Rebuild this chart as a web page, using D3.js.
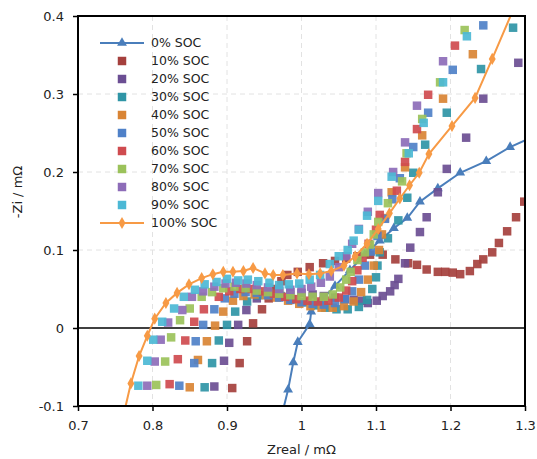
<!DOCTYPE html>
<html><head><meta charset="utf-8">
<script src="https://cdn.jsdelivr.net/npm/d3@7"></script>
<style>body{margin:0;background:#fff;} text{font-family:"DejaVu Sans",Verdana,sans-serif;fill:#222;}</style>
</head><body><svg id="c" width="537" height="459"></svg>
<script>
const xTicks=[0.7,0.8,0.9,1,1.1,1.2,1.3];
const yTicks=[-0.1,0,0.1,0.2,0.3,0.4];
const seriesNames=["0% SOC","10% SOC","20% SOC","30% SOC","40% SOC","50% SOC","60% SOC","70% SOC","80% SOC","90% SOC","100% SOC"];
const seriesColors=["#4A7EBB","#A5403D","#6B4E93","#2F95A6","#D98434","#4F81C8","#CF4B4F","#9BC25A","#8D6CB8","#4CB8D5","#F79A45"];

const soc0=[[0.974,-0.11],[0.982,-0.079],[0.989,-0.044],[0.995,-0.018],[1.011,0.005],[1.013,0.021],[1.025,0.034],[1.045,0.054],[1.065,0.074],[1.085,0.094],[1.105,0.112],[1.124,0.128],[1.142,0.141],[1.159,0.162],[1.183,0.179],[1.213,0.199],[1.248,0.214],[1.280,0.232],[1.310,0.245]];
const soc10=[[0.907,-0.077],[0.917,-0.045],[0.927,-0.017],[0.935,0.006],[0.947,0.024],[0.956,0.038],[0.966,0.050],[0.973,0.060],[0.981,0.068],[0.995,0.072],[1.011,0.078],[1.029,0.083],[1.045,0.086],[1.060,0.089],[1.075,0.092],[1.092,0.094],[1.109,0.094],[1.126,0.088],[1.143,0.083],[1.155,0.081],[1.168,0.075],[1.183,0.072],[1.193,0.072],[1.203,0.071],[1.213,0.069],[1.226,0.073],[1.236,0.082],[1.244,0.088],[1.256,0.097],[1.265,0.109],[1.276,0.124],[1.288,0.142],[1.299,0.162]];
const soc20=[[0.883,-0.075],[0.896,-0.042],[0.903,-0.019],[0.915,0.004],[0.926,0.023],[0.940,0.038],[0.955,0.045],[0.970,0.047],[0.985,0.046],[1.000,0.045],[1.015,0.043],[1.030,0.041],[1.045,0.039],[1.058,0.037],[1.070,0.036],[1.081,0.035],[1.089,0.032],[1.101,0.035],[1.109,0.041],[1.119,0.047],[1.125,0.055],[1.130,0.063],[1.139,0.083],[1.146,0.103],[1.159,0.123],[1.168,0.142],[1.183,0.174],[1.195,0.204],[1.221,0.244],[1.244,0.294],[1.291,0.340]];
const soc30=[[0.870,-0.076],[0.880,-0.045],[0.889,-0.016],[0.900,0.004],[0.911,0.021],[0.927,0.034],[0.942,0.042],[0.957,0.044],[0.972,0.041],[0.987,0.037],[1.002,0.033],[1.017,0.029],[1.032,0.026],[1.047,0.024],[1.062,0.024],[1.077,0.027],[1.088,0.036],[1.095,0.050],[1.100,0.065],[1.102,0.080],[1.105,0.097],[1.116,0.115],[1.130,0.138],[1.142,0.167],[1.150,0.199],[1.166,0.235],[1.195,0.276],[1.241,0.332],[1.284,0.385]];
const soc40=[[0.850,-0.076],[0.861,-0.041],[0.873,-0.017],[0.884,0.003],[0.895,0.021],[0.908,0.035],[0.922,0.041],[0.937,0.043],[0.952,0.042],[0.967,0.039],[0.982,0.035],[0.997,0.031],[1.012,0.028],[1.027,0.026],[1.042,0.026],[1.057,0.028],[1.070,0.034],[1.080,0.046],[1.089,0.062],[1.097,0.080],[1.104,0.100],[1.108,0.120],[1.112,0.141],[1.121,0.174],[1.139,0.206],[1.162,0.247],[1.190,0.294],[1.230,0.351]];
const soc50=[[0.836,-0.074],[0.856,-0.045],[0.858,-0.017],[0.868,0.004],[0.883,0.024],[0.897,0.038],[0.910,0.044],[0.925,0.046],[0.940,0.045],[0.955,0.042],[0.970,0.039],[0.985,0.036],[1.000,0.033],[1.015,0.031],[1.030,0.030],[1.045,0.032],[1.058,0.037],[1.068,0.047],[1.077,0.062],[1.085,0.080],[1.093,0.098],[1.102,0.118],[1.112,0.140],[1.122,0.165],[1.132,0.192],[1.150,0.232],[1.170,0.276],[1.203,0.331],[1.244,0.388]];
const soc60=[[0.823,-0.072],[0.834,-0.040],[0.844,-0.016],[0.856,0.008],[0.869,0.024],[0.889,0.040],[0.903,0.047],[0.918,0.050],[0.933,0.050],[0.948,0.047],[0.963,0.044],[0.978,0.040],[0.993,0.037],[1.008,0.035],[1.022,0.034],[1.036,0.035],[1.050,0.039],[1.060,0.048],[1.068,0.060],[1.075,0.074],[1.082,0.090],[1.090,0.108],[1.100,0.126],[1.105,0.145],[1.128,0.176],[1.139,0.213],[1.155,0.255],[1.170,0.299],[1.206,0.362]];
const soc70=[[0.805,-0.073],[0.817,-0.043],[0.825,-0.012],[0.837,0.010],[0.850,0.025],[0.866,0.040],[0.880,0.046],[0.895,0.051],[0.910,0.053],[0.925,0.051],[0.940,0.048],[0.955,0.046],[0.970,0.044],[0.985,0.042],[1.000,0.041],[1.015,0.040],[1.030,0.040],[1.042,0.043],[1.052,0.052],[1.060,0.062],[1.066,0.072],[1.075,0.087],[1.085,0.097],[1.092,0.107],[1.097,0.120],[1.103,0.136],[1.116,0.160],[1.135,0.188],[1.141,0.224],[1.162,0.268],[1.186,0.315],[1.219,0.382]];
const soc80=[[0.793,-0.074],[0.803,-0.043],[0.811,-0.015],[0.821,0.007],[0.840,0.023],[0.853,0.040],[0.868,0.047],[0.883,0.053],[0.898,0.057],[0.912,0.058],[0.926,0.057],[0.940,0.055],[0.955,0.052],[0.970,0.050],[0.985,0.049],[1.000,0.050],[1.013,0.053],[1.026,0.058],[1.038,0.066],[1.050,0.078],[1.060,0.092],[1.068,0.108],[1.077,0.127],[1.089,0.149],[1.103,0.173],[1.123,0.200],[1.139,0.238],[1.155,0.285],[1.190,0.342]];
const soc90=[[0.781,-0.074],[0.793,-0.042],[0.801,-0.015],[0.813,0.008],[0.829,0.025],[0.842,0.040],[0.857,0.049],[0.870,0.056],[0.886,0.059],[0.900,0.063],[0.915,0.061],[0.928,0.062],[0.942,0.060],[0.957,0.058],[0.970,0.055],[0.983,0.056],[0.997,0.057],[1.011,0.062],[1.025,0.068],[1.038,0.082],[1.050,0.092],[1.062,0.100],[1.070,0.112],[1.077,0.126],[1.088,0.144],[1.103,0.163],[1.121,0.194],[1.144,0.224],[1.164,0.263],[1.190,0.315],[1.222,0.374]];
const soc100=[[0.762,-0.108],[0.771,-0.071],[0.782,-0.036],[0.793,-0.010],[0.803,0.012],[0.818,0.032],[0.833,0.045],[0.849,0.056],[0.866,0.064],[0.881,0.069],[0.895,0.072],[0.908,0.072],[0.922,0.073],[0.935,0.077],[0.951,0.070],[0.962,0.068],[0.975,0.068],[0.994,0.070],[1.010,0.069],[1.025,0.070],[1.040,0.073],[1.057,0.080],[1.072,0.092],[1.088,0.108],[1.103,0.127],[1.118,0.147],[1.132,0.166],[1.145,0.183],[1.158,0.199],[1.171,0.223],[1.202,0.259],[1.233,0.295],[1.256,0.345],[1.285,0.410]];

const allSeries=[soc0,soc10,soc20,soc30,soc40,soc50,soc60,soc70,soc80,soc90,soc100];

const svg=d3.select("#c");
const L=78,R=525,T=16,B=406;
const x=d3.scaleLinear().domain([0.7,1.3]).range([L,R]);
const y=d3.scaleLinear().domain([-0.1,0.4]).range([B,T]);

svg.append("rect").attr("width",537).attr("height",459).attr("fill","#fff");
svg.append("defs").append("clipPath").attr("id","clip").append("rect").attr("x",L).attr("y",T).attr("width",R-L).attr("height",B-T);

// grid
const grid=svg.append("g").attr("stroke","#e2e2e2").attr("stroke-width",1).attr("stroke-dasharray","5,4");
xTicks.slice(1,-1).forEach(v=>grid.append("line").attr("x1",x(v)).attr("x2",x(v)).attr("y1",T).attr("y2",B));
yTicks.filter(v=>v>0&&v<0.4).forEach(v=>grid.append("line").attr("x1",L).attr("x2",R).attr("y1",y(v)).attr("y2",y(v)));

// zero line
svg.append("line").attr("x1",L).attr("x2",R).attr("y1",y(0)).attr("y2",y(0)).attr("stroke","#000").attr("stroke-width",1.6);

// axes
const ax=svg.append("g").attr("transform",`translate(0,${B})`).call(d3.axisBottom(x).tickValues(xTicks).tickSize(5).tickPadding(10).tickFormat(d=>String(d)));
const ay=svg.append("g").attr("transform",`translate(${L},0)`).call(d3.axisLeft(y).tickValues(yTicks).tickSize(5).tickPadding(9).tickFormat(d=>String(d)));
[ax,ay].forEach(a=>{a.select(".domain").remove();a.selectAll("line").attr("stroke","#000").attr("stroke-width",1.5);a.selectAll("text").attr("font-size",13).attr("fill","#222").style("font-family","DejaVu Sans");});

// data
const plot=svg.append("g").attr("clip-path","url(#clip)");
const line=d3.line().x(d=>x(d[0])).y(d=>y(d[1]));
const sq=d3.symbol().type(d3.symbolSquare).size(72)();
const tri=d3.symbol().type(d3.symbolTriangle).size(42)();
const dia=d3.symbol().type(d3.symbolDiamond).size(42)();

function drawLine(data,color,shape){
  plot.append("path").datum(data).attr("d",line).attr("fill","none").attr("stroke",color).attr("stroke-width",2);
  plot.append("g").selectAll("path").data(data).join("path").attr("d",shape)
    .attr("transform",d=>`translate(${x(d[0])},${y(d[1])})`).attr("fill",color);
}
drawLine(soc0,seriesColors[0],tri);
for(let i=1;i<=9;i++){
  plot.append("g").selectAll("path").data(allSeries[i]).join("path").attr("d",sq)
    .attr("transform",d=>`translate(${x(d[0])},${y(d[1])})`).attr("fill",seriesColors[i]).attr("fill-opacity",0.92);
}
drawLine(soc100,seriesColors[10],dia);

// frame
svg.append("rect").attr("x",L).attr("y",T).attr("width",R-L).attr("height",B-T).attr("fill","none").attr("stroke","#000").attr("stroke-width",2);

// titles
svg.append("text").attr("x",(L+R)/2).attr("y",454).attr("text-anchor","middle").attr("font-size",13).text("Zreal / mΩ");
svg.append("text").attr("transform","translate(22,192) rotate(-90)").attr("text-anchor","middle").attr("font-size",13).text("-Zi / mΩ");

// legend
const lg=svg.append("g");
seriesNames.forEach((n,i)=>{
  const yy=43+i*18, c=seriesColors[i];
  if(i===0||i===10){
    lg.append("line").attr("x1",100).attr("x2",144).attr("y1",yy).attr("y2",yy).attr("stroke",c).attr("stroke-width",2);
    lg.append("path").attr("d",i===0?tri:dia).attr("transform",`translate(122,${yy})`).attr("fill",c);
  } else {
    lg.append("path").attr("d",sq).attr("transform",`translate(122,${yy})`).attr("fill",c);
  }
  lg.append("text").attr("x",151).attr("y",yy).attr("dy","0.35em").attr("font-size",12.5).text(n);
});
</script></body></html>
